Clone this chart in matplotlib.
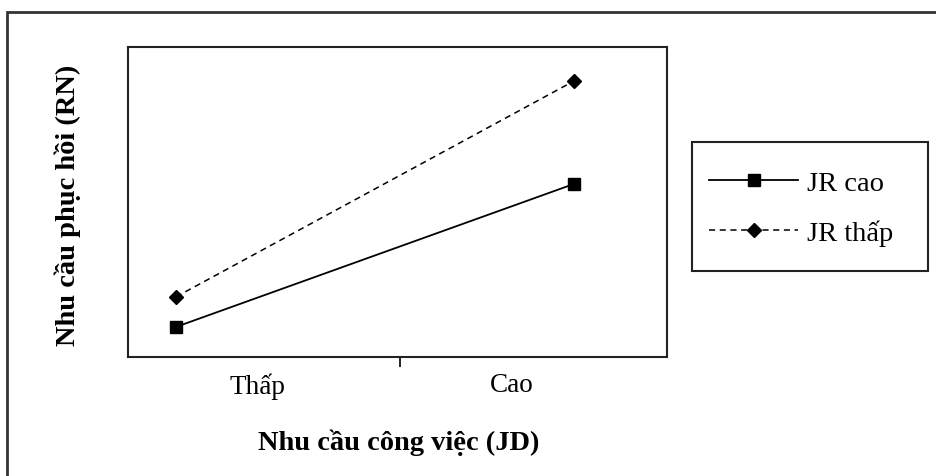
import matplotlib.pyplot as plt
from matplotlib.patches import Rectangle

plt.rcParams["font.family"] = ["Liberation Serif", "DejaVu Serif"]

# categories on x axis (label, position)
categories = ["Thấp", "Cao"]
cat_pos = [0.241, 0.712]
# point positions on x (same scale)
x_pts = [0.089, 0.827]
jr_cao = [0.97, 5.58]
jr_thap = [1.94, 8.90]

W, H = 937, 477
fig = plt.figure(figsize=(W / 100, H / 100), dpi=100)

# outer frame (right and bottom cut off in the original)
fig.patches.append(Rectangle((7/W, -0.2), 1.2, 0.2 + 1 - 13/H,
                             transform=fig.transFigure, fill=False,
                             edgecolor="#333333", linewidth=2))

ax = fig.add_axes([128/W, 1 - 358/H, 539/W, 310/H])
ax.plot(x_pts, jr_cao, color="black", linewidth=1.3, marker="s",
        markersize=9, label="JR cao")
ax.plot(x_pts, jr_thap, color="black", linewidth=1.1, linestyle=(0, (4, 3)),
        marker="D", markersize=7, label="JR thấp")
ax.set_xlim(0, 1)
ax.set_ylim(0, 10)
ax.set_yticks([])
ax.set_xticks([0.505])
ax.set_xticklabels([""])
ax.set_xticks(cat_pos, minor=True)
ax.set_xticklabels(categories, minor=True, fontsize=19.5)
ax.tick_params(axis="x", which="major", length=7, width=1.2, direction="out")
ax.tick_params(axis="x", which="minor", length=0, pad=11)
for s in ax.spines.values():
    s.set_linewidth(1.5)
    s.set_color("#222222")

fig.text(399/W, 1 - 443/H, "Nhu cầu công việc (JD)", ha="center",
         va="center", fontsize=20.5, fontweight="bold")
fig.text(68/W, 1 - 205/H, "Nhu cầu phục hồi (RN)", ha="center",
         va="center", rotation=90, fontsize=20.5, fontweight="bold")

# legend box drawn separately
fig.patches.append(Rectangle((692/W, 1 - 272/H), 236/W, 129/H,
                             transform=fig.transFigure, fill=False,
                             edgecolor="#222222", linewidth=1.5))
leg = ax.legend(loc="center", bbox_to_anchor=(801/W, 1 - 209/H),
                bbox_transform=fig.transFigure, fontsize=20.5, frameon=False,
                handlelength=3.15, borderpad=0.3, labelspacing=0.82,
                handletextpad=0.3)

plt.savefig("out.png", dpi=100)
